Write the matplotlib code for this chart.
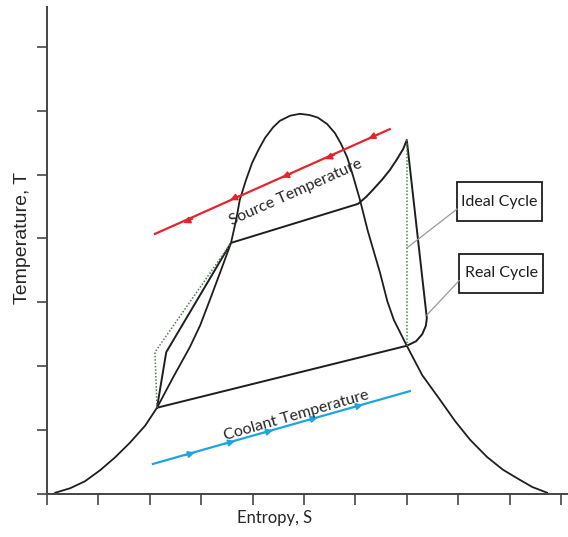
import matplotlib

matplotlib.use("Agg")
import matplotlib.pyplot as plt
from matplotlib.patches import Rectangle

# saturation dome (entropy, temperature) in tick units
dome_s = [0.16, 0.45, 0.74, 1.03, 1.32, 1.61, 1.91, 2.14, 2.45, 2.78, 2.98, 3.17,
          3.37, 3.58, 3.68, 3.75, 3.87, 3.99, 4.11, 4.24, 4.40, 4.53, 4.73, 4.92,
          5.11, 5.27, 5.45, 5.60, 5.72, 5.84, 5.95, 6.09, 6.24, 6.48, 6.62, 6.75,
          7.00, 7.30, 7.65, 7.94, 8.23, 8.56, 8.87, 9.14, 9.44, 9.73]
dome_t = [0.02, 0.09, 0.20, 0.37, 0.57, 0.80, 1.07, 1.35, 1.82, 2.30, 2.64, 3.04,
          3.47, 3.93, 4.29, 4.60, 4.91, 5.18, 5.38, 5.57, 5.74, 5.84, 5.92, 5.95,
          5.93, 5.89, 5.79, 5.65, 5.48, 5.27, 4.99, 4.60, 4.12, 3.46, 3.02, 2.72,
          2.32, 1.86, 1.47, 1.14, 0.85, 0.58, 0.38, 0.25, 0.11, 0.02]

# real cycle
real_s = [2.14, 2.32, 3.58, 6.05, 6.21, 6.34, 6.52, 6.67, 6.81, 6.93, 7.00,
          7.39, 7.37, 7.30, 7.18, 7.00, 2.14]
real_t = [1.35, 2.22, 3.93, 4.54, 4.65, 4.76, 4.92, 5.07, 5.24, 5.40, 5.54,
          2.75, 2.63, 2.50, 2.39, 2.32, 1.35]

# ideal cycle deviations (dotted)
ideal_pump_s = [2.14, 2.10, 3.58]
ideal_pump_t = [1.35, 2.22, 3.93]
ideal_turb_s = [7.00, 7.00]
ideal_turb_t = [5.54, 2.32]

# heat source / sink streams
source_s = [2.10, 6.67]
source_t = [4.07, 5.71]
source_arrow_s = [2.65, 3.56, 4.57, 5.41, 6.25]
source_arrow_t = [4.24, 4.60, 4.95, 5.24, 5.56]

coolant_s = [2.06, 7.06]
coolant_t = [0.47, 1.61]
coolant_arrow_s = [2.88, 3.66, 4.40, 5.27, 6.15]
coolant_arrow_t = [0.65, 0.83, 1.00, 1.20, 1.40]

RED = "#e2262b"
BLUE = "#1ea5dc"
INK = "#1e1e1e"
TEXT = "#262626"
FONT = "Lato"

fig = plt.figure(figsize=(5.68, 5.37), dpi=100)
ax = fig.add_axes([47 / 568, 43 / 537, 520 / 568, 487 / 537])
ax.set_xlim(0, 520 / 51.4)
ax.set_ylim(0, 487 / 63.9)

ax.plot(dome_s, dome_t, color=INK, lw=1.3, solid_joinstyle="round")
ax.plot(real_s, real_t, color=INK, lw=1.4, solid_joinstyle="round")
ax.plot(ideal_pump_s, ideal_pump_t, color="#4f7f4f", lw=1.1, ls=(0, (1, 1.2)))
ax.plot(ideal_turb_s, ideal_turb_t, color="#3f8f3f", lw=1.1, ls=(0, (1, 1.2)))

# source stream, flowing down-left
ax.plot(source_s, source_t, color=RED, lw=1.6)
dx, dy = source_s[1] - source_s[0], source_t[1] - source_t[0]
for s, t in zip(source_arrow_s, source_arrow_t):
    ax.annotate("", xy=(s, t), xytext=(s + 0.04 * dx, t + 0.04 * dy),
                arrowprops=dict(arrowstyle="-|>", color=RED, lw=1.2,
                                mutation_scale=10, shrinkA=0, shrinkB=0))

# coolant stream, flowing up-right
ax.plot(coolant_s, coolant_t, color=BLUE, lw=1.6)
dx, dy = coolant_s[1] - coolant_s[0], coolant_t[1] - coolant_t[0]
for s, t in zip(coolant_arrow_s, coolant_arrow_t):
    ax.annotate("", xy=(s, t), xytext=(s - 0.04 * dx, t - 0.04 * dy),
                arrowprops=dict(arrowstyle="-|>", color=BLUE, lw=1.2,
                                mutation_scale=10, shrinkA=0, shrinkB=0))

ax.text(4.84, 4.72, "Source Temperature", rotation=24, rotation_mode="anchor",
        ha="center", va="center", fontsize=11.5, family=FONT, color=TEXT)
ax.text(4.86, 1.23, "Coolant Temperature", rotation=16, rotation_mode="anchor",
        ha="center", va="center", fontsize=11.5, family=FONT, color=TEXT)

# callout boxes
for (x0, y0, x1, y1), label, tip in [
    ((7.98, 4.27, 9.63, 4.88), "Ideal Cycle", (7.00, 3.85)),
    ((8.02, 3.15, 9.65, 3.76), "Real Cycle", (7.39, 2.80)),
]:
    ax.add_patch(Rectangle((x0, y0), x1 - x0, y1 - y0, fill=False,
                           edgecolor=INK, lw=1.3))
    ax.text((x0 + x1) / 2, (y0 + y1) / 2, label, ha="center", va="center",
            fontsize=11.5, family=FONT, color=INK)
    ax.plot([x0, tip[0]], [y0 + 0.28 * (y1 - y0) + 0.02, tip[1]],
            color="#9a9a9a", lw=0.9)

for side in ("top", "right"):
    ax.spines[side].set_visible(False)
for side in ("left", "bottom"):
    ax.spines[side].set_color("#444444")
    ax.spines[side].set_linewidth(1.4)
ax.set_xticks(range(11))
ax.set_yticks(range(8))
ax.tick_params(axis="x", direction="out", length=8, width=1.3, color="#555555",
               labelbottom=False)
ax.tick_params(axis="y", direction="out", length=7, width=1.3, color="#555555",
               labelleft=False)

ax.set_xlabel("Entropy, S", fontsize=12, family=FONT, color=TEXT)
ax.xaxis.set_label_coords(0.437, -0.032)
ax.set_ylabel("Temperature, T", fontsize=14, family="Liberation Sans", color=TEXT)
ax.yaxis.set_label_coords(-0.03, 0.526)

fig.savefig("out.png", dpi=100)
